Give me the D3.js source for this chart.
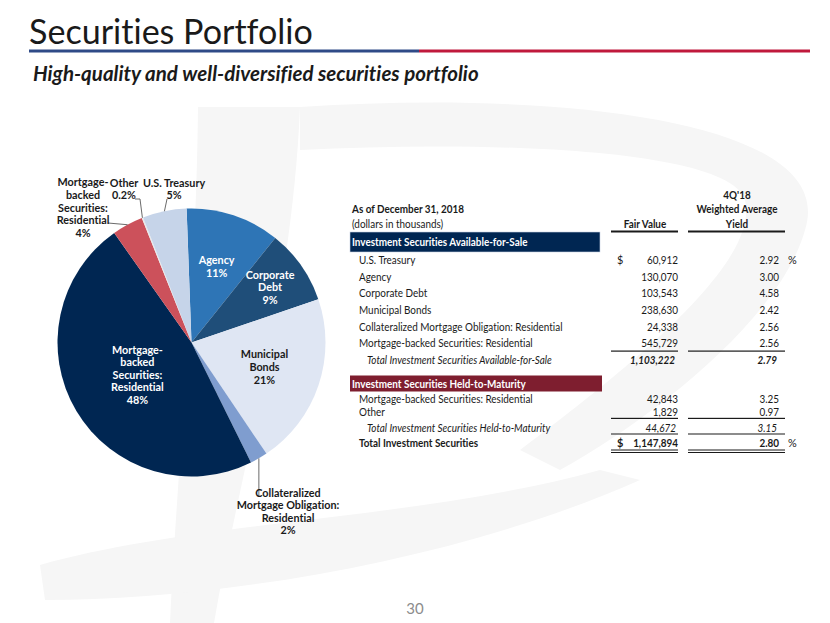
<!DOCTYPE html>
<html><head><meta charset="utf-8">
<script src="https://cdn.jsdelivr.net/npm/d3@7"></script>
<style>body{margin:0;background:#fff} svg{display:block} text{font-family:Lato,'Open Sans',sans-serif;font-variant-ligatures:none;font-feature-settings:"liga" 0}</style>
</head><body><svg id="c" width="830" height="623"></svg>
<script>
// ---------------- data ----------------
const afsLabels = ["U.S. Treasury","Agency","Corporate Debt","Municipal Bonds","Collateralized Mortgage Obligation: Residential","Mortgage-backed Securities: Residential"];
const afsValues = [60912,130070,103543,238630,24338,545729];
const afsYields = ["2.92","3.00","4.58","2.42","2.56","2.56"];
const afsTotal = 1103222, afsTotalYield = "2.79";
const htmLabels = ["Mortgage-backed Securities: Residential","Other"];
const htmValues = [42843,1829];
const htmYields = ["3.25","0.97"];
const htmTotal = 44672, htmTotalYield = "3.15";
const grandTotal = 1147894, grandTotalYield = "2.80";

const pieCategories = ["Agency","Corporate Debt","Municipal Bonds","Collateralized Mortgage Obligation: Residential","Mortgage-backed Securities: Residential","Mortgage-backed Securities: Residential (HTM)","Other","U.S. Treasury"];
const pieValues = [130070,103543,238630,24338,545729,42843,1829,60912];
const pieLabelLines = [["Agency"],["Corporate","Debt"],["Municipal","Bonds"],["Collateralized","Mortgage Obligation:","Residential"],["Mortgage-","backed","Securities:","Residential"],["Mortgage-","backed","Securities:","Residential"],["Other"],["U.S. Treasury"]];
const piePercents = ["11%","9%","21%","2%","48%","4%","0.2%","5%"];
const pieColors = ["#2e75b6","#1f4e79","#dfe6f3","#7f9dcf","#002652","#cc515b","#e9e9e9","#c6d4e9"];

// ---------------- helpers ----------------
const svg = d3.select("#c");
const fmt = d3.format(",");
function fitText(sel, w){ const t=sel.node(); const l=t.getComputedTextLength(); const fs=parseFloat(sel.attr("font-size")); sel.attr("font-size", fs*w/l); }
function squeeze(sel, f){ const l=sel.node().getComputedTextLength(); sel.attr("textLength", l*f).attr("lengthAdjust","spacingAndGlyphs"); }

// watermark (faint logo)
const wm = svg.append("g").attr("fill","#f6f6f6");
wm.append("path").attr("d","M198,107 L300,107 C292,300 240,470 214,623 L170,623 C178,450 196,300 198,107 Z");
wm.append("path").attr("d","M300,107 C560,90 840,120 805,230 C780,320 650,420 560,470 L520,450 C640,360 760,260 745,200 C730,150 500,140 300,150 Z");
wm.append("path").attr("d","M40,565 C200,520 420,520 600,470 L640,480 C460,560 220,600 45,600 Z");

// ---------------- title ----------------
const title = svg.append("text").attr("x",29).attr("y",44).attr("font-size",38).attr("fill","#1a1a1a").text("Securities Portfolio");
fitText(title, 284);
svg.append("rect").attr("x",29).attr("y",49.5).attr("width",390).attr("height",3).attr("fill","#2f4a87");
svg.append("rect").attr("x",419).attr("y",49.5).attr("width",391).attr("height",3).attr("fill","#c0193c");
const sub = svg.append("text").attr("x",33).attr("y",81).attr("font-size",19).attr("font-weight",700).attr("font-style","italic").attr("fill","#1a1a1a").text("High-quality and well-diversified securities portfolio");
fitText(sub, 446);

// ---------------- pie ----------------
const cx=191.5, cy=342.5, R=134;
const a0 = -2.1*Math.PI/180;
const pie = d3.pie().sort(null).startAngle(a0).endAngle(a0+2*Math.PI);
const arcs = pie(pieValues);
const arc = d3.arc().innerRadius(0).outerRadius(R);
const gp = svg.append("g").attr("transform",`translate(${cx},${cy})`);
gp.selectAll("path").data(arcs).join("path").attr("d",arc).attr("fill",(d,i)=>pieColors[i]);

function polar(ang, r){ return [r*Math.sin(ang), -r*Math.cos(ang)]; }
const lh = 12.6;
const insideRadius = {0:80, 1:96, 2:77, 4:63};
const insideColor = {0:"#ffffff",1:"#ffffff",2:"#1a1a1a",4:"#ffffff"};
Object.keys(insideRadius).forEach(k=>{
  const i=+k, a=arcs[i]; const mid=(a.startAngle+a.endAngle)/2;
  const [x,y]=polar(mid, insideRadius[i]);
  const lines = pieLabelLines[i].concat([piePercents[i]]);
  const t = gp.append("text").attr("text-anchor","middle").attr("font-size",10.8).attr("font-weight",700).attr("fill",insideColor[i]);
  lines.forEach((s,j)=>t.append("tspan").attr("x",x).attr("y",y+4+(j-(lines.length-1)/2)*lh).text(s));
});
const outside = {3:{x:288-cx,y:511.5-cy,lead:(p)=>[[p[0],p[1]],[p[0],497-cy]]},
                 7:{x:174-cx,y:189-cy,lead:(p)=>[[p[0],p[1]],[167-cx,199-cy]]},
                 6:{x:124-cx,y:189-cy,lead:(p)=>[[p[0],p[1]],[140-cx,199-cy],[135-cx,199-cy]]},
                 5:{x:83-cx,y:207.5-cy,lead:(p)=>[[p[0],p[1]],[108-cx,223-cy]]}};
Object.keys(outside).forEach(k=>{
  const i=+k, a=arcs[i], o=outside[k]; const mid=(a.startAngle+a.endAngle)/2;
  const p = polar(mid, R);
  gp.append("path").attr("d",d3.line()(o.lead(p))).attr("fill","none").attr("stroke","#595959").attr("stroke-width",0.9);
  const lines = pieLabelLines[i].concat([piePercents[i]]);
  const t = gp.append("text").attr("text-anchor","middle").attr("font-size",10.8).attr("font-weight",700).attr("fill","#1a1a1a");
  lines.forEach((s,j)=>t.append("tspan").attr("x",o.x).attr("y",o.y+4+(j-(lines.length-1)/2)*lh).text(s));
});

// ---------------- table ----------------
const gt = svg.append("g").attr("font-size",10.9).attr("fill","#1a1a1a");
const xL=352, xRow=359, xTot=367, xDol=617, xVal=678, xYld=779, xPct=788;
const col1=[611,678], col2=[688,785];
function txt(x,y,s,opt={}){ const t=gt.append("text").attr("x",x).attr("y",y).text(s);
  if(opt.anchor) t.attr("text-anchor",opt.anchor); if(opt.bold) t.attr("font-weight",700); if(opt.italic) t.attr("font-style","italic"); if(opt.fill) t.attr("fill",opt.fill); if(opt.size) t.attr("font-size",opt.size);
  if(s.length>1) squeeze(t,0.91); return t; }
function hline(y,w){ [col1,col2].forEach(c=>gt.append("rect").attr("x",c[0]).attr("y",y).attr("width",c[1]-c[0]).attr("height",w).attr("fill","#1a1a1a")); }

txt(737,199,"4Q'18",{anchor:"middle",bold:true});
txt(737,213,"Weighted Average",{anchor:"middle",bold:true});
txt(737,228,"Yield",{anchor:"middle",bold:true});
txt(645,228,"Fair Value",{anchor:"middle",bold:true});
txt(xL,213,"As of December 31, 2018",{bold:true});
txt(xL,228,"(dollars in thousands)");
hline(230.5,2);

gt.append("rect").attr("x",350).attr("y",232).attr("width",250).attr("height",20).attr("fill","#002652").attr("stroke","#c9d3e3").attr("stroke-width",0.6);
txt(xL,246,"Investment Securities Available-for-Sale",{bold:true,fill:"#ffffff"});

const afsY = [264,280.7,297.3,314,330.7,347.3];
afsLabels.forEach((s,i)=>{
  txt(xRow,afsY[i],s);
  txt(xVal,afsY[i],fmt(afsValues[i]),{anchor:"end"});
  txt(xYld,afsY[i],afsYields[i],{anchor:"end"});
});
txt(xDol,afsY[0],"$");
txt(xPct,afsY[0],"%");
hline(350.5,1.2);
txt(xTot,364,"Total Investment Securities Available-for-Sale",{italic:true});
txt(675,364,fmt(afsTotal),{anchor:"end",bold:true,italic:true});
txt(777,364,afsTotalYield,{anchor:"end",bold:true,italic:true});

gt.append("rect").attr("x",350).attr("y",375.5).attr("width",252).attr("height",16).attr("fill","#7e1e2f");
txt(xL,387.5,"Investment Securities Held-to-Maturity",{bold:true,fill:"#ffffff"});
const htmY=[402.5,416];
htmLabels.forEach((s,i)=>{
  txt(xRow,htmY[i],s);
  txt(xVal,htmY[i],fmt(htmValues[i]),{anchor:"end"});
  txt(xYld,htmY[i],htmYields[i],{anchor:"end"});
});
hline(417.8,1.2);
txt(xTot,431.5,"Total Investment Securities Held-to-Maturity",{italic:true});
txt(676,431.5,fmt(htmTotal),{anchor:"end",italic:true});
txt(777,431.5,htmTotalYield,{anchor:"end",italic:true});
hline(433.5,1);
txt(xRow,447,"Total Investment Securities",{bold:true});
txt(xDol,447,"$",{bold:true});
txt(xVal,447,fmt(grandTotal),{anchor:"end",bold:true});
txt(xYld,447,grandTotalYield,{anchor:"end",bold:true});
txt(xPct,447,"%");
hline(449.5,1);
hline(452,1);

svg.append("text").attr("x",415).attr("y",614).attr("text-anchor","middle").attr("font-size",15).attr("fill","#8c8c8c").text("30");
</script></body></html>
